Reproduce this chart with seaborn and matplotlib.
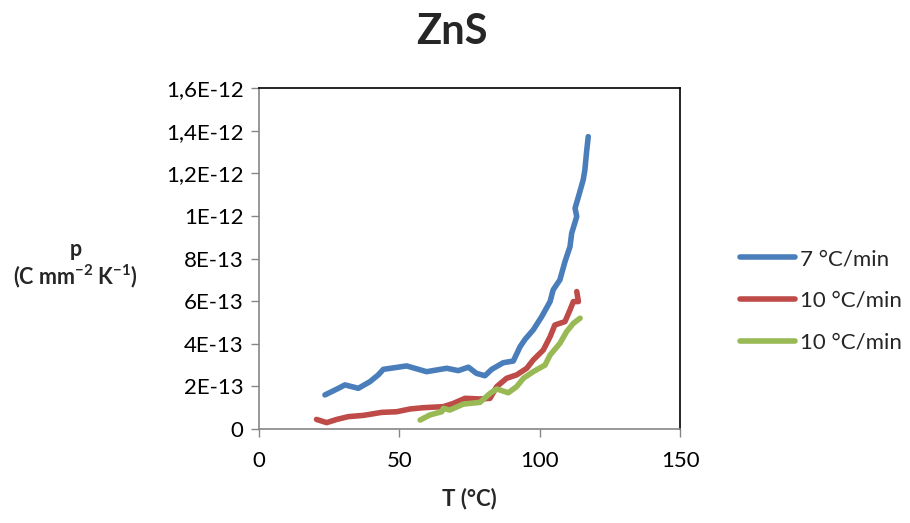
import matplotlib.pyplot as plt
import numpy as np
import pandas as pd
import seaborn as sns

sns.set_theme(style="white")
plt.rcParams['font.family'] = ['Lato', 'DejaVu Sans']
plt.rcParams['mathtext.fontset'] = 'custom'
plt.rcParams['mathtext.rm'] = 'Lato'
plt.rcParams['mathtext.bf'] = 'Lato:bold'

# data (T in °C, p in 1E-13 C mm-2 K-1)
t_blue = [23.5, 28.3, 30.6, 35.4, 39.5, 42.5, 44.3, 52.6, 59.7, 66.9, 71.0, 74.6, 77.5, 80.5,
          82.9, 87.0, 90.6, 93.0, 94.8, 97.7, 100.7, 103.7, 104.8, 107.2, 109.0, 110.8,
          111.4, 113.2, 112.6, 113.8, 115.5, 116.1, 116.7, 117.3]
p_blue = [1.60, 1.91, 2.07, 1.91, 2.22, 2.54, 2.80, 2.96, 2.69, 2.85, 2.74, 2.90, 2.61, 2.50,
          2.80, 3.11, 3.19, 3.86, 4.21, 4.65, 5.27, 5.98, 6.53, 7.00, 7.85, 8.56,
          9.19, 9.97, 10.36, 10.90, 11.69, 12.16, 13.00, 13.72]

t_red = [20.5, 24.1, 27.7, 31.8, 37.2, 43.7, 49.0, 53.8, 58.5, 65.7, 69.2, 73.4, 78.7, 82.3,
         84.7, 88.2, 91.8, 95.4, 97.7, 101.3, 103.7, 105.4, 109.0, 110.8, 112.0, 113.8, 113.2]
p_red = [0.45, 0.30, 0.45, 0.58, 0.64, 0.78, 0.81, 0.94, 1.00, 1.05, 1.20, 1.44, 1.41, 1.44,
         1.99, 2.38, 2.54, 2.85, 3.24, 3.71, 4.33, 4.88, 5.04, 5.59, 5.98, 5.98, 6.45]

t_green = [57.4, 60.9, 65.1, 65.7, 68.0, 72.8, 78.7, 82.3, 84.7, 88.8, 91.8, 94.2, 97.7,
           101.9, 103.7, 107.2, 109.6, 112.0, 114.4]
p_green = [0.42, 0.66, 0.81, 0.97, 0.89, 1.17, 1.25, 1.67, 1.88, 1.70, 1.99, 2.38, 2.69,
           3.00, 3.47, 4.02, 4.57, 4.96, 5.20]

series_labels = ['7 °C/min', '10 °C/min', '10 °C/min']
series_colors = ['#4A7EBB', '#BE4B48', '#98B954']

x_ticks = [0, 50, 100, 150]
y_ticks = [0, 2e-13, 4e-13, 6e-13, 8e-13, 1e-12, 1.2e-12, 1.4e-12, 1.6e-12]
y_tick_labels = ['0', '2E-13', '4E-13', '6E-13', '8E-13', '1E-12', '1,2E-12', '1,4E-12', '1,6E-12']

fig = plt.figure(figsize=(9.1, 5.23), dpi=100)
ax = fig.add_axes([0.2846, 0.1797, 0.4627, 0.652])

for t, p, lab, col in zip([t_blue, t_red, t_green], [p_blue, p_red, p_green],
                          series_labels, series_colors):
    df = pd.DataFrame({'T': t, 'p': np.array(p) * 1e-13})
    sns.lineplot(data=df, x='T', y='p', ax=ax, sort=False, color=col,
                 linewidth=4, label=lab, solid_capstyle='round', solid_joinstyle='round')

ax.set_xlim(0, 150)
ax.set_ylim(0, 1.6e-12)
ax.set_xticks(x_ticks)
ax.set_xticklabels([str(v) for v in x_ticks])
ax.set_yticks(y_ticks)
ax.set_yticklabels(y_tick_labels)
ax.tick_params(axis='both', labelsize=16, colors='black', length=6, width=1,
               direction='out', color='#868686')
ax.tick_params(axis='x', pad=10)
ax.tick_params(axis='y', pad=5)
ax.tick_params(left=True, bottom=True)

for side in ['top', 'right']:
    ax.spines[side].set_color('black')
    ax.spines[side].set_linewidth(1.2)
for side in ['left', 'bottom']:
    ax.spines[side].set_color('#868686')
    ax.spines[side].set_linewidth(1.2)

ax.set_xlabel('T (°C)', fontsize=16, fontweight='bold', labelpad=12)
ax.set_ylabel('')
fig.text(0.083, 0.495, 'p\n(C mm$\\mathbf{^{-2}}$ K$\\mathbf{^{-1}}$)', ha='center', va='center',
         fontsize=15.5, fontweight='bold', linespacing=1.1)
fig.suptitle('ZnS', x=0.497, y=0.975, fontsize=30, fontweight='bold')

handles, labels = ax.get_legend_handles_labels()
ax.get_legend().remove()
fig.legend(handles, labels, loc='center left', bbox_to_anchor=(0.791, 0.4245),
           frameon=False, fontsize=16, handlelength=2.5, handletextpad=0.2,
           labelspacing=0.98)

plt.savefig('out.png', dpi=100)
